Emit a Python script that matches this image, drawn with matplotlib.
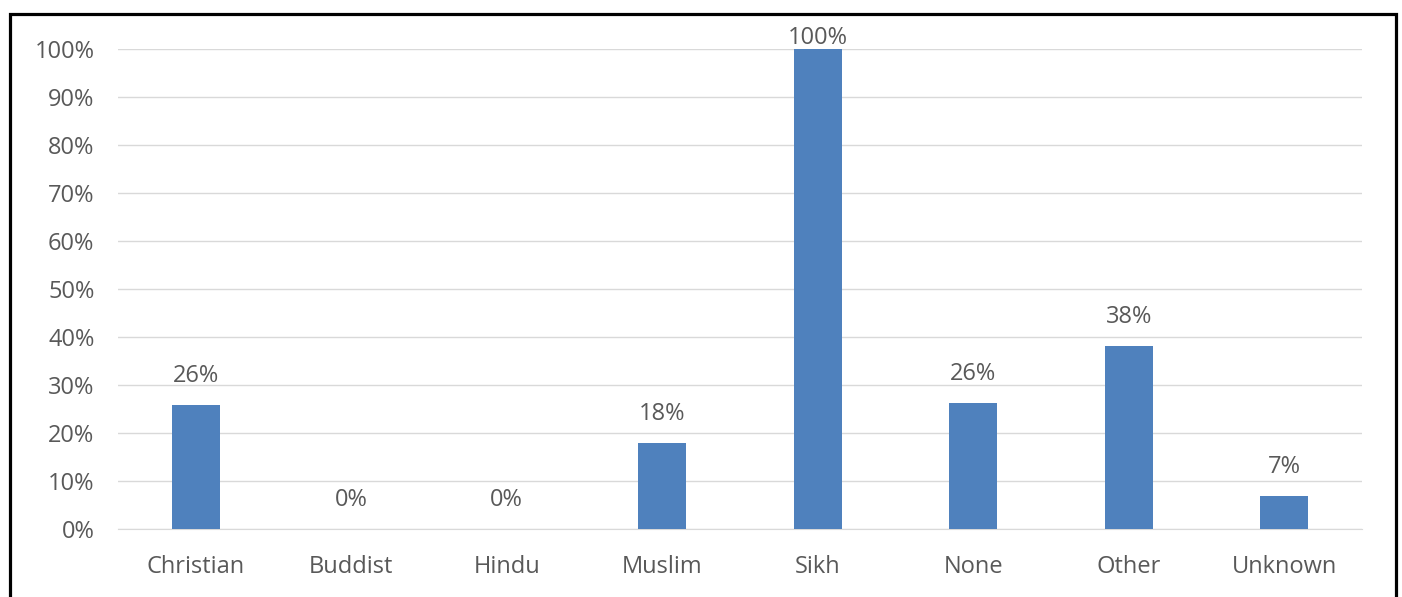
import matplotlib.pyplot as plt
from matplotlib.patches import Rectangle
from matplotlib.ticker import FuncFormatter

# --- Data ------------------------------------------------------------------

categories = ["Christian", "Buddist", "Hindu", "Muslim", "Sikh", "None", "Other", "Unknown"]
shares = [25.8, 0.0, 0.0, 17.9, 100.0, 26.3, 38.1, 6.9]
share_labels = ["26%", "0%", "0%", "18%", "100%", "26%", "38%", "7%"]

BAR_COLOR = "#4F81BD"
TEXT_COLOR = "#595959"
GRID_COLOR = "#D9D9D9"

plt.rcParams["font.family"] = ["Open Sans", "DejaVu Sans"]

# --- Plot ------------------------------------------------------------------

fig = plt.figure(figsize=(14.02, 5.97), dpi=100)
ax = fig.add_axes([118 / 1402, 1 - 529 / 597, (1362 - 118) / 1402, (529 - 49) / 597])

x = range(len(categories))
ax.bar(x, shares, width=0.31, color=BAR_COLOR, zorder=3)

# Excel keeps labels inside the plot area, so the top one gets squeezed down
px_per_unit = (529 - 49) / 100
for xi, v, lab in zip(x, shares, share_labels):
    off = min(29, 11 + (100 - v) * px_per_unit)
    ax.annotate(lab, (xi, v), xytext=(0, off), textcoords="offset pixels",
                ha="center", va="center", fontsize=17, color=TEXT_COLOR, zorder=4)

ax.set_xlim(-0.5, len(categories) - 0.5)
ax.set_ylim(0, 100)
ax.set_yticks(range(0, 101, 10))
ax.yaxis.set_major_formatter(FuncFormatter(lambda v, _: f"{int(v)}%"))
ax.set_xticks(list(x))
ax.set_xticklabels(categories)

ax.grid(axis="y", color=GRID_COLOR, linewidth=1, zorder=0)
ax.tick_params(axis="both", length=0, labelsize=17, labelcolor=TEXT_COLOR)
ax.tick_params(axis="y", pad=17)
ax.tick_params(axis="x", pad=18.5)
for side in ["top", "right", "left"]:
    ax.spines[side].set_visible(False)
ax.spines["bottom"].set_color(GRID_COLOR)

# black frame around the chart (bottom edge cut off in the reference)
fig.patches.append(Rectangle((9.5 / 1402, -0.05), (1395.5 - 9.5) / 1402, 1.05 - 13.5 / 597,
                             transform=fig.transFigure, fill=False,
                             edgecolor="black", linewidth=2.3))

fig.savefig("out.png", dpi=100)
